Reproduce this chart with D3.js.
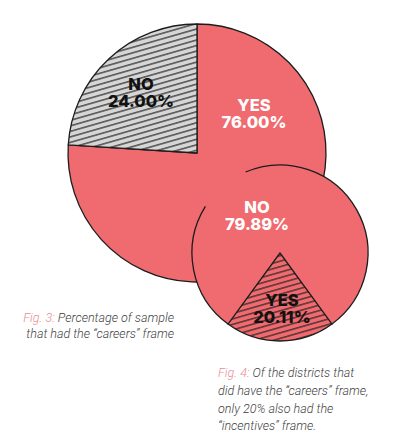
<!DOCTYPE html>
<html><head><meta charset="utf-8">
<script src="https://cdn.jsdelivr.net/npm/d3@7"></script>
<style>
html,body{margin:0;padding:0;background:#fff;}
svg{display:block;}
</style></head>
<body>
<script>
// Data
const pie1Labels = ["YES", "NO"];
const pie1Values = [76.00, 24.00];
const pie2Labels = ["NO", "YES"];
const pie2Values = [79.89, 20.11];
const caption3 = ["Fig. 3:", "Percentage of sample", "that had the \u201Ccareers\u201D frame"];
const caption4 = ["Fig. 4:", "Of the districts that", "did have the \u201Ccareers\u201D frame,", "only 20% also had the", "\u201Cincentives\u201D frame."];

const W = 394, H = 435;
const pink = "#ef6b70", grayFill = "#d6d6d6", ink = "#1c1c1c";
const svg = d3.select("body").append("svg").attr("width", W).attr("height", H);

const defs = svg.append("defs");
function hatch(id, bg) {
  const p = defs.append("pattern").attr("id", id).attr("patternUnits", "userSpaceOnUse")
    .attr("width", 10).attr("height", 5.3).attr("patternTransform", "rotate(-16)");
  p.append("rect").attr("width", 10).attr("height", 5.3).attr("fill", bg);
  p.append("line").attr("x1", 0).attr("x2", 10).attr("y1", 2.6).attr("y2", 2.6)
    .attr("stroke", ink).attr("stroke-width", 1.1);
}
hatch("hatchGray", grayFill);
hatch("hatchPink", pink);

const fmt = d => d.toFixed(2) + "%";

// Pie 1
const c1 = {x: 197, y: 153, r: 129};
const pie1 = d3.pie().sort(null)(pie1Values);
const arc1 = d3.arc().innerRadius(0).outerRadius(c1.r);
const g1 = svg.append("g").attr("transform", `translate(${c1.x},${c1.y})`);
g1.selectAll("path").data(pie1).join("path")
  .attr("d", arc1)
  .attr("fill", (d, i) => i === 0 ? pink : "url(#hatchGray)")
  .attr("stroke", ink).attr("stroke-width", 1.3).attr("stroke-linejoin", "round");

// Pie 2 (YES slice centred at the bottom)
const c2 = {x: 280, y: 253, r: 88};
const yesAngle = pie2Values[1] / 100 * Math.PI * 2;
const pie2 = d3.pie().sort(null).startAngle(Math.PI + yesAngle / 2).endAngle(Math.PI * 3 + yesAngle / 2)(pie2Values);
const arc2 = d3.arc().innerRadius(0).outerRadius(c2.r);
const g2 = svg.append("g").attr("transform", `translate(${c2.x},${c2.y})`);
g2.selectAll("path.fill").data(pie2).join("path").attr("class", "fill")
  .attr("d", arc2)
  .attr("fill", (d, i) => i === 0 ? pink : "url(#hatchPink)")
  .attr("stroke", "none");
// outline of NO slice except the short gap at upper left
const deg = Math.PI / 180;
const outlineArc = d3.arc().innerRadius(c2.r).outerRadius(c2.r);
g2.append("path").attr("d", outlineArc({startAngle: -23 * deg, endAngle: 144 * deg}))
  .attr("fill", "none").attr("stroke", ink).attr("stroke-width", 1.3);
g2.append("path").attr("d", outlineArc({startAngle: 216 * deg, endAngle: 302 * deg}))
  .attr("fill", "none").attr("stroke", ink).attr("stroke-width", 1.3);
g2.append("path").attr("d", arc2(pie2[1]))
  .attr("fill", "none").attr("stroke", ink).attr("stroke-width", 1.3).attr("stroke-linejoin", "round");

// Labels
function label(x, y, lines, color) {
  const t = svg.append("text").attr("x", x).attr("y", y).attr("text-anchor", "middle")
    .attr("font-family", "Inter, 'Liberation Sans', sans-serif").attr("font-weight", 800)
    .attr("font-size", 16.5).attr("fill", color);
  lines.forEach((s, i) => t.append("tspan").attr("x", x).attr("dy", i === 0 ? 0 : 16.5).text(s));
}
label(254, 111, [pie1Labels[0], fmt(pie1Values[0])], "#fff");
label(141, 90, [pie1Labels[1], fmt(pie1Values[1])], "#111");
label(257, 213, [pie2Labels[0], fmt(pie2Values[0])], "#fff");
label(282, 306, [pie2Labels[1], fmt(pie2Values[1])], "#111");

// Captions
const capFont = "Roboto, 'Noto Sans', sans-serif";
const t3 = svg.append("text").attr("font-family", capFont).attr("font-style", "italic")
  .attr("font-weight", 300).attr("font-size", 12.5).attr("fill", "#3f3f3f").attr("text-anchor", "end");
const l31 = t3.append("tspan").attr("x", 174).attr("y", 322);
l31.append("tspan").attr("fill", "#e98d97").text(caption3[0] + " ");
l31.append("tspan").text(caption3[1]);
t3.append("tspan").attr("x", 174).attr("y", 338).text(caption3[2]);

const t4 = svg.append("text").attr("font-family", capFont).attr("font-style", "italic")
  .attr("font-weight", 300).attr("font-size", 12.5).attr("fill", "#3f3f3f");
const l41 = t4.append("tspan").attr("x", 218).attr("y", 377);
l41.append("tspan").attr("fill", "#e98d97").text(caption4[0] + " ");
l41.append("tspan").text(caption4[1]);
caption4.slice(2).forEach((s, i) => t4.append("tspan").attr("x", 218).attr("y", 395 + i * 17.5).text(s));
</script>
</body></html>
